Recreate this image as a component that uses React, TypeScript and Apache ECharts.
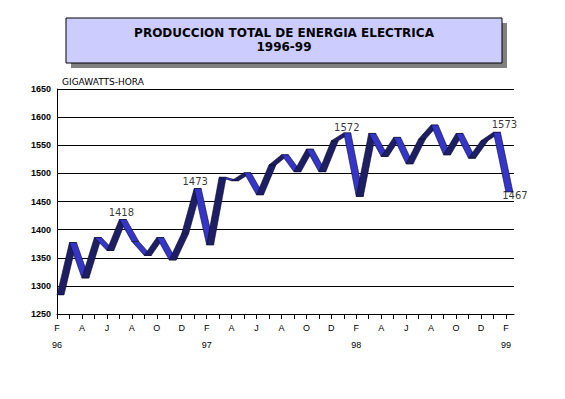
import React, { useEffect, useRef } from "react";
import * as echarts from "echarts";

const monthLabels = [
  "F","M","A","M","J","J","A","S","O","N","D","E",
  "F","M","A","M","J","J","A","S","O","N","D","E",
  "F","M","A","M","J","J","A","S","O","N","D","E",
  "F",
];
const yearLabels: Record<number, string> = { 0: "96", 12: "97", 24: "98", 36: "99" };
const values = [
  1284, 1377, 1314, 1386, 1363, 1418, 1379, 1354, 1386, 1346, 1393, 1473,
  1373, 1493, 1487, 1501, 1462, 1515, 1533, 1503, 1543, 1503, 1558, 1572,
  1459, 1571, 1530, 1564, 1517, 1561, 1586, 1533, 1571, 1527, 1558, 1573,
  1467,
];
const labeledIdx = [5, 11, 23, 35, 36];
const yMin = 1250;
const yMax = 1650;
const yStep = 50;
const title = "PRODUCCION TOTAL DE ENERGIA ELECTRICA";
const subtitle = "1996-99";
const unitLabel = "GIGAWATTS-HORA";

const FONT = "'Liberation Sans', Arial, sans-serif";
const WIDE = "'DejaVu Sans', sans-serif";

export default function App() {
  const ref = useRef<HTMLDivElement>(null);
  useEffect(() => {
    if (!ref.current) return;
    const chart = echarts.init(ref.current, undefined, { renderer: "svg" });
    const ribbonData = values.slice(1).map((v, k) => [k + 1, v, values[k]]);
    const labelOffsets: Record<number, { pos: string; off: number[] }> = {
      5: { pos: "top", off: [2, 3] },
      11: { pos: "top", off: [1, 3] },
      23: { pos: "top", off: [3, 5] },
      35: { pos: "top", off: [11, 3] },
      36: { pos: "bottom", off: [9, -7] },
    };
    const labelData = labeledIdx.map((i) => ({
      value: [i, values[i]],
      label: {
        show: true,
        position: labelOffsets[i].pos,
        offset: labelOffsets[i].off,
      },
    }));
    chart.setOption({
      animation: false,
      backgroundColor: "#ffffff",
      grid: { left: 57, right: 51, top: 89, bottom: 85, containLabel: false },
      xAxis: {
        type: "value",
        min: 0,
        max: 36.65,
        interval: 1,
        splitLine: { show: false },
        axisLine: { show: true, lineStyle: { color: "#000", width: 1 } },
        axisTick: { show: true, length: 5, lineStyle: { color: "#000" } },
        axisLabel: {
          showMaxLabel: false,
          color: "#000",
          fontFamily: FONT,
          fontSize: 9,
          lineHeight: 17,
          margin: 5,
          formatter: (v: number) => {
            const i = Math.round(v);
            if (Math.abs(v - i) > 0.01 || i % 2 !== 0 || i >= monthLabels.length) return "";
            const y = yearLabels[i];
            return y ? monthLabels[i] + "\n" + y : monthLabels[i];
          },
        },
      },
      yAxis: {
        type: "value",
        min: yMin,
        max: yMax,
        interval: yStep,
        axisLine: { show: true, lineStyle: { color: "#000", width: 1 } },
        axisTick: { show: false },
        splitLine: { show: true, lineStyle: { color: "#000", width: 1 } },
        axisLabel: {
          color: "#000",
          fontFamily: FONT,
          fontSize: 9,
          fontWeight: "bold",
          margin: 6,
          formatter: (v: number) => String(v),
        },
      },
      graphic: [
        { type: "rect", shape: { x: 71, y: 23, width: 436, height: 45 }, style: { fill: "#808080" }, z: 10 },
        { type: "rect", shape: { x: 66, y: 18, width: 436, height: 45 }, style: { fill: "#ccccff", stroke: "#000", lineWidth: 1 }, z: 11 },
        { type: "text", x: 284, y: 32.5, z: 12, style: { text: title, fill: "#000", font: `bold 12px ${WIDE}`, textAlign: "center", textVerticalAlign: "middle" } },
        { type: "text", x: 284, y: 47, z: 12, style: { text: subtitle, fill: "#000", font: `bold 12px ${WIDE}`, textAlign: "center", textVerticalAlign: "middle" } },
        { type: "text", x: 62, y: 82, z: 12, style: { text: unitLabel, fill: "#000", font: `9px ${WIDE}`, textAlign: "left", textVerticalAlign: "middle" } },
      ],
      series: [
        {
          type: "custom",
          data: ribbonData,
          encode: { x: 0, y: 1 },
          clip: false,
          renderItem: (params: any, api: any) => {
            const i = api.value(0);
            const a = api.coord([i - 1, api.value(2)]);
            const b = api.coord([i, api.value(1)]);
            const dx = 7;
            const up = b[1] < a[1];
            return {
              type: "polygon",
              shape: { points: [a, b, [b[0] + dx, b[1]], [a[0] + dx, a[1]]] },
              style: { fill: up ? "#1e1e62" : "#3535c8", stroke: "#0a0a30", lineWidth: 0.6 },
            };
          },
          z: 5,
        },
        {
          type: "scatter",
          data: labelData,
          symbolSize: 1,
          itemStyle: { color: "rgba(0,0,0,0)" },
          label: {
            show: true,
            color: "#000",
            fontFamily: WIDE,
            fontSize: 10,
            formatter: (p: any) => String(p.value[1]),
          },
          z: 6,
        },
      ],
    });
    return () => chart.dispose();
  }, []);
  return <div ref={ref} style={{ position: "fixed", left: 0, top: 0, width: 565, height: 399 }} />;
}
